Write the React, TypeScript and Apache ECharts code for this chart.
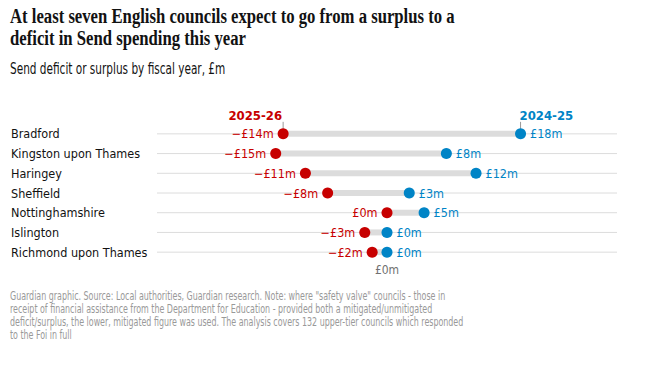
import React, { useEffect, useRef } from "react";
import * as echarts from "echarts";

const councils = [
  "Bradford",
  "Kingston upon Thames",
  "Haringey",
  "Sheffield",
  "Nottinghamshire",
  "Islington",
  "Richmond upon Thames",
];
const fy2425 = [18, 8, 12, 3, 5, 0, 0];
const fy2526 = [-14, -15, -11, -8, 0, -3, -2];
const yearLabels = ["2025-26", "2024-25"];

const titleText =
  "At least seven English councils expect to go from a surplus to a\ndeficit in Send spending this year";
const subtitleText = "Send deficit or surplus by fiscal year, £m";
const footerText =
  'Guardian graphic. Source: Local authorities, Guardian research. Note: where "safety valve" councils - those in\nreceipt of financial assistance from the Department for Education - provided both a mitigated/unmitigated\ndeficit/surplus, the lower, mitigated figure was used. The analysis covers 132 upper-tier councils which responded\nto the Foi in full';

const RED = "#c70000";
const BLUE = "#0084c6";
const SANS = "'Liberation Sans Narrow', 'DejaVu Sans Condensed', Roboto, sans-serif";
const SERIF = "'Liberation Serif', 'DejaVu Serif', serif";
const XMIN = -31;
const XMAX = 31;

const fmt = (v: number) => (v < 0 ? "\u2212£" + Math.abs(v) + "m" : "£" + v + "m");

export default function App() {
  const ref = useRef<HTMLDivElement>(null);
  useEffect(() => {
    if (!ref.current) return;
    const chart = echarts.init(ref.current, null, { renderer: "svg" });
    const option: any = {
      animation: false,
      grid: { left: 157, right: 37, top: 124, bottom: 107, containLabel: false },
      xAxis: {
        type: "value",
        min: XMIN,
        max: XMAX,
        interval: 31,
        axisLine: { show: false },
        axisTick: { show: false },
        splitLine: { show: false },
        axisLabel: {
          margin: 2,
          color: "#707070",
          fontSize: 12,
          fontFamily: SANS,
          formatter: (v: number) => (v === 0 ? "£0m" : ""),
        },
      },
      yAxis: {
        type: "category",
        inverse: true,
        data: councils,
        axisLine: { show: false },
        axisTick: { show: false },
        splitLine: { show: false },
        axisLabel: {
          align: "left",
          margin: 146,
          color: "#121212",
          fontSize: 12.5,
          fontFamily: SANS,
        },
      },
      series: [
        {
          type: "custom",
          z: 1,
          data: councils.map((_, i) => [i, fy2526[i], fy2425[i]]),
          encode: { y: 0 },
          renderItem: (params: any, api: any) => {
            const i = api.value(0);
            const a = api.value(1);
            const b = api.value(2);
            const l = api.coord([XMIN, i]);
            const r = api.coord([XMAX, i]);
            const pa = api.coord([a, i]);
            const pb = api.coord([b, i]);
            return {
              type: "group",
              children: [
                {
                  type: "line",
                  shape: { x1: l[0], y1: l[1], x2: r[0], y2: r[1] },
                  style: { stroke: "#dcdcdc", lineWidth: 1 },
                },
                {
                  type: "line",
                  shape: { x1: pa[0], y1: pa[1], x2: pb[0], y2: pb[1] },
                  style: { stroke: "#dcdcdc", lineWidth: 6 },
                },
              ],
            };
          },
          markLine: {
            silent: true,
            symbol: "none",
            label: { show: false },
            lineStyle: { color: "#121212", width: 2, type: "solid" },
            data: [[{ coord: [0, -0.35] }, { coord: [0, 6.5] }]],
          },
        },
        {
          type: "scatter",
          z: 3,
          symbolSize: 11,
          itemStyle: { color: RED, opacity: 1 },
          data: councils.map((c, i) => [fy2526[i], c]),
          label: {
            show: true,
            position: "left",
            distance: 4,
            color: RED,
            fontSize: 12.5,
            fontFamily: SANS,
            formatter: (p: any) => fmt(p.value[0]),
          },
        },
        {
          type: "scatter",
          z: 4,
          symbolSize: 11,
          itemStyle: { color: BLUE, opacity: 1 },
          data: councils.map((c, i) => [fy2425[i], c]),
          label: {
            show: true,
            position: "right",
            distance: 4,
            color: BLUE,
            fontSize: 12.5,
            fontFamily: SANS,
            formatter: (p: any) => fmt(p.value[0]),
          },
        },
      ],
    };
    chart.setOption(option);

    const pRed = chart.convertToPixel({ gridIndex: 0 }, [fy2526[0], councils[0]]) as number[];
    const pBlue = chart.convertToPixel({ gridIndex: 0 }, [fy2425[0], councils[0]]) as number[];

    chart.setOption({
      graphic: [
        {
          type: "text",
          x: 10,
          y: 5,
          scaleX: 0.835,
          style: {
            text: titleText,
            fill: "#121212",
            fontSize: 20,
            lineHeight: 22,
            fontFamily: SERIF,
            fontWeight: "bold",
            verticalAlign: "top",
          },
        },
        {
          type: "text",
          x: 10,
          y: 61,
          scaleX: 0.78,
          style: {
            text: subtitleText,
            fill: "#121212",
            fontSize: 15,
            fontFamily: SANS,
            verticalAlign: "top",
          },
        },
        {
          type: "text",
          x: 10,
          y: 289,
          scaleX: 0.735,
          style: {
            text: footerText,
            fill: "#999999",
            fontSize: 12,
            lineHeight: 13,
            fontFamily: SANS,
            verticalAlign: "top",
          },
        },
        {
          type: "line",
          shape: { x1: pRed[0], y1: pRed[1] - 12, x2: pRed[0], y2: pRed[1] - 5 },
          style: { stroke: "#999999", lineWidth: 1 },
        },
        {
          type: "line",
          shape: { x1: pBlue[0], y1: pBlue[1] - 12, x2: pBlue[0], y2: pBlue[1] - 5 },
          style: { stroke: "#999999", lineWidth: 1 },
        },
        {
          type: "text",
          x: pRed[0] - 1,
          y: pRed[1] - 12,
          style: {
            text: yearLabels[0],
            fill: RED,
            fontSize: 13,
            fontWeight: "bold",
            fontFamily: SANS,
            align: "right",
            verticalAlign: "bottom",
          },
        },
        {
          type: "text",
          x: pBlue[0] - 1,
          y: pBlue[1] - 12,
          style: {
            text: yearLabels[1],
            fill: BLUE,
            fontSize: 13,
            fontWeight: "bold",
            fontFamily: SANS,
            align: "left",
            verticalAlign: "bottom",
          },
        },
      ],
    });

    return () => chart.dispose();
  }, []);
  return (
    <div
      ref={ref}
      style={{ position: "fixed", left: 0, top: 0, width: 654, height: 369, background: "#fff" }}
    />
  );
}
